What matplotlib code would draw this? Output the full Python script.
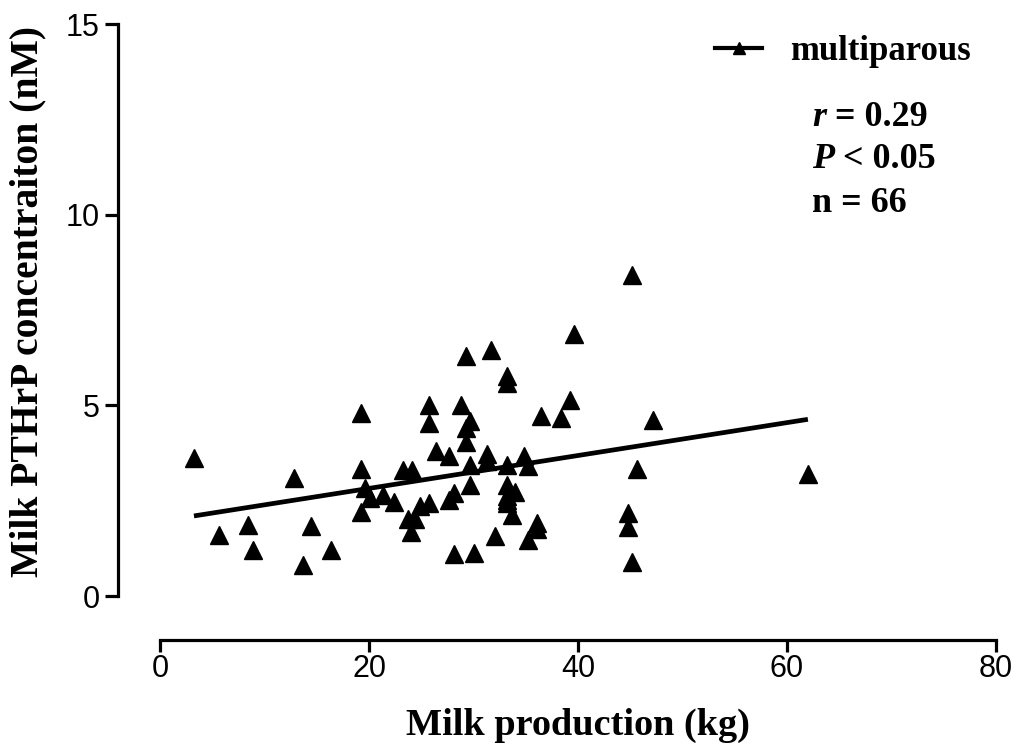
import numpy as np
import matplotlib
matplotlib.use("Agg")
import matplotlib.pyplot as plt
from matplotlib.lines import Line2D

# milk production (kg) vs milk PTHrP (nM), multiparous cows
milk_kg = [3.25, 5.65, 8.45, 8.87, 12.85, 13.65, 14.45, 16.4, 19.2, 19.2,
           19.6, 20.1, 19.2, 21.3, 22.4, 23.3, 24.1, 23.7, 24.0, 24.4,
           24.9, 25.7, 25.7, 25.7, 26.4, 27.65, 27.65, 28.1, 28.1, 28.8,
           29.7, 29.25, 29.25, 29.25, 29.7, 29.7, 30.05, 31.65, 31.3, 31.3,
           32.05, 33.2, 33.2, 33.2, 33.2, 34.0, 33.2, 33.2, 33.65, 34.8,
           35.25, 36.05, 36.05, 35.25, 36.5, 38.4, 39.2, 39.6, 44.8, 44.8,
           45.2, 45.6, 45.2, 47.2, 62.0, 33.2]
pthrp_nm = [3.62, 1.60, 1.86, 1.21, 3.09, 0.80, 1.84, 1.21, 4.80, 3.34,
            2.83, 2.57, 2.20, 2.64, 2.46, 3.31, 3.31, 2.01, 1.69, 2.01,
            2.35, 2.43, 5.00, 4.54, 3.79, 3.66, 2.52, 2.70, 1.10, 5.00,
            4.58, 4.40, 4.05, 6.30, 3.44, 2.92, 1.14, 6.44, 3.73, 3.53,
            1.58, 5.76, 5.59, 3.44, 2.92, 2.74, 2.61, 2.43, 2.13, 3.66,
            3.40, 1.91, 1.76, 1.47, 4.71, 4.67, 5.15, 6.86, 2.17, 1.82,
            0.88, 3.33, 8.41, 4.62, 3.20, 2.52]

group = "multiparous"
stats = [("r", " = 0.29"), ("P", " < 0.05"), ("", "n = 66")]

x = np.array(milk_kg)
y = np.array(pthrp_nm)
slope, intercept = np.polyfit(x, y, 1)
xf = np.array([x.min(), x.max()])

W, H = 1021, 753
fig = plt.figure(figsize=(W / 100, H / 100), dpi=100)
ax = fig.add_axes([160 / W, 1 - 596 / H, (996 - 160) / W, (596 - 24) / H])

ax.plot(x, y, linestyle="none", marker="^", ms=13, color="black", clip_on=False)
ax.plot(xf, slope * xf + intercept, color="black", lw=3.4, solid_capstyle="butt")

ax.set_xlim(0, 80)
ax.set_ylim(0, 15)
ax.set_xticks([0, 20, 40, 60, 80])
ax.set_yticks([0, 5, 10, 15])

for s in ["top", "right"]:
    ax.spines[s].set_visible(False)
ax.spines["left"].set_position(("outward", 30))
ax.spines["bottom"].set_position(("outward", 31.5))
for s in ["left", "bottom"]:
    ax.spines[s].set_linewidth(2.3)
    ax.spines[s].set_capstyle("projecting")

ax.tick_params(axis="both", width=2.3, labelsize=22, colors="black")
ax.tick_params(axis="y", length=9.5, pad=4)
ax.tick_params(axis="x", length=8.5, pad=2)
for lab in ax.get_xticklabels() + ax.get_yticklabels():
    lab.set_fontfamily("Liberation Sans")

ax.set_xlabel("Milk production (kg)", fontfamily="Liberation Serif",
              fontweight="bold", fontsize=27.5)
ax.xaxis.label.set_va("center")
ax.xaxis.set_label_coords(0.5, -(725 - 596) / 572)
ax.set_ylabel("Milk PTHrP concentraiton (nM)", fontfamily="Liberation Serif",
              fontweight="bold", fontsize=28.5)
ax.yaxis.label.set_va("center")
ax.yaxis.set_label_coords(-(160 - 28) / 836, 0.515)

# legend
handle = Line2D([], [], color="black", lw=3, marker="^", ms=9)
leg = fig.legend([handle], [group], loc="center left",
                 bbox_to_anchor=(684 / W, 1 - 52 / H), frameon=False,
                 handlelength=1.35, handletextpad=0.8,
                 prop={"family": "Liberation Serif", "weight": "bold", "size": 25})

# stats text
rows_y = [118, 160, 203]
for (ital, rest), yy in zip(stats, rows_y):
    fy = 1 - yy / H
    if ital:
        t = fig.text(812 / W, fy, ital, fontfamily="Liberation Serif",
                     fontweight="bold", fontstyle="italic", fontsize=26, va="center")
        ax.annotate(rest, xy=(1, 0), xycoords=t, va="bottom", ha="left",
                    fontfamily="Liberation Serif", fontweight="bold", fontsize=26,
                    annotation_clip=False)
    else:
        fig.text(812 / W, fy, rest, fontfamily="Liberation Serif",
                 fontweight="bold", fontsize=26, va="center")

fig.savefig("out.png", dpi=100)
